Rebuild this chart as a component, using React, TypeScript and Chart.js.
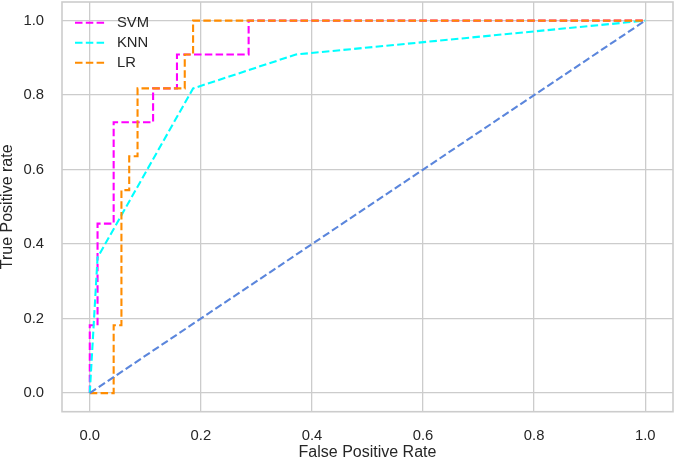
import React, { useEffect, useRef } from 'react'
import { Chart, registerables } from 'chart.js'

Chart.register(...registerables)

// ROC points
const svmFpr = [0, 0, 0.014, 0.014, 0.043, 0.043, 0.114, 0.114, 0.157, 0.157, 0.286, 0.286, 1]
const svmTpr = [0, 0.182, 0.182, 0.455, 0.455, 0.727, 0.727, 0.818, 0.818, 0.909, 0.909, 1, 1]

const knnFpr = [0, 0.014, 0.186, 0.371, 1]
const knnTpr = [0, 0.364, 0.818, 0.909, 1]

const lrFpr = [0, 0.043, 0.043, 0.057, 0.057, 0.071, 0.071, 0.086, 0.086, 0.171, 0.171, 0.186, 0.186, 1]
const lrTpr = [0, 0, 0.182, 0.182, 0.545, 0.545, 0.636, 0.636, 0.818, 0.818, 0.909, 0.909, 1, 1]

const chanceFpr = [0, 1]
const chanceTpr = [0, 1]

const tickValues = [0, 0.2, 0.4, 0.6, 0.8, 1.0]

const FONT = "'Liberation Sans', Arial, sans-serif"
const TEXT = '#262626'
const GRID = '#cccccc'
const DASH = [7.5, 3.3]

const toPoints = (xs: number[], ys: number[]) => xs.map((x, i) => ({ x, y: ys[i] }))

const frameAndLegend = {
	id: 'frameAndLegend',
	afterDraw(chart: Chart) {
		const { ctx, chartArea } = chart
		ctx.save()
		ctx.strokeStyle = GRID
		ctx.lineWidth = 1.6
		ctx.strokeRect(chartArea.left, chartArea.top, chartArea.right - chartArea.left, chartArea.bottom - chartArea.top)

		// legend, top left inside the plot
		const items = chart.data.datasets.filter((d: any) => d.label)
		items.forEach((d: any, i: number) => {
			const y = chartArea.top + 20.7 + i * 20
			ctx.setLineDash(DASH)
			ctx.strokeStyle = d.borderColor
			ctx.lineWidth = 2.1
			ctx.beginPath()
			ctx.moveTo(chartArea.left + 13, y)
			ctx.lineTo(chartArea.left + 43, y)
			ctx.stroke()
			ctx.setLineDash([])
			ctx.fillStyle = TEXT
			ctx.font = `14.8px ${FONT}`
			ctx.textBaseline = 'middle'
			ctx.textAlign = 'left'
			ctx.fillText(d.label, chartArea.left + 55, y)
		})
		ctx.restore()
	},
}

function RocChart() {
	const refContainer = useRef<HTMLCanvasElement>(null)

	useEffect(() => {
		let chart: Chart | undefined
		if (refContainer.current) {
			const line = (label: string, color: string, xs: number[], ys: number[], order: number) => ({
				label,
				data: toPoints(xs, ys),
				showLine: true,
				borderColor: color,
				backgroundColor: color,
				borderWidth: 2.1,
				borderDash: DASH,
				borderCapStyle: 'butt' as const,
				pointRadius: 0,
				tension: 0,
				order,
			})

			const axis = (title: string, isY: boolean) => ({
				type: 'linear' as const,
				min: -0.05,
				max: 1.05,
				afterBuildTicks: (scale: any) => {
					scale.ticks = tickValues.map((value) => ({ value }))
				},
				afterFit: (scale: any) => {
					if (isY) scale.width = 62
					else scale.height = 51.3
					scale.paddingTop = 0
					scale.paddingBottom = 0
					scale.paddingLeft = 0
					scale.paddingRight = 0
				},
				border: { display: false },
				grid: { color: GRID, lineWidth: 1.3, drawTicks: false },
				ticks: {
					color: TEXT,
					padding: isY ? 18 : 15.5,
					font: { family: FONT, size: 14.8 },
					callback: (v: any) => Number(v).toFixed(1),
				},
				title: {
					display: true,
					text: title,
					color: TEXT,
					font: { family: FONT, size: 16, lineHeight: isY ? 1.0 : 1.2 },
					padding: { top: 0, bottom: isY ? 0 : 0.5 },
				},
			})

			chart = new Chart(refContainer.current, {
				type: 'scatter',
				data: {
					datasets: [
						line('SVM', '#ff00ff', svmFpr, svmTpr, 3),
						line('KNN', '#00ffff', knnFpr, knnTpr, 2),
						line('LR', '#ff8c00', lrFpr, lrTpr, 1),
						line('', '#5b86dc', chanceFpr, chanceTpr, 0),
					],
				},
				options: {
					responsive: false,
					animation: false,
					layout: { autoPadding: false, padding: { left: 0, top: 2, right: 2, bottom: 0 } },
					plugins: {
						legend: { display: false },
						tooltip: { enabled: false },
					},
					scales: {
						x: axis('False Positive Rate', false),
						y: axis('True Positive rate', true),
					},
				} as any,
				plugins: [frameAndLegend],
			})
		}
		return () => chart?.destroy()
	}, [])

	return <canvas aria-label="roc-curve" ref={refContainer} width={675} height={463} />
}

export default function App() {
	return (
		<div style={{ position: 'absolute', left: 0, top: 0, width: 675, height: 463, background: '#fff' }}>
			<RocChart />
		</div>
	)
}
